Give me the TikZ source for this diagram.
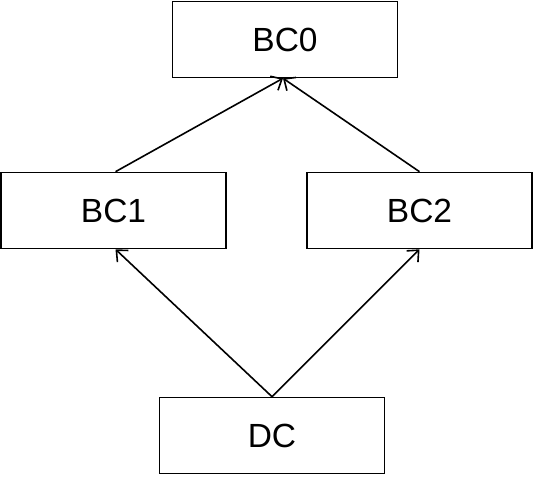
\documentclass[tikz,border=0pt]{standalone}
\usepackage{fontspec}
\setmainfont{Liberation Sans}
\usetikzlibrary{arrows.meta}
\begin{document}
\begin{tikzpicture}[x=1pt,y=-1pt,
  box/.style={draw, line width=1.6pt, minimum width=225pt, minimum height=76pt, inner sep=0pt, font=\fontsize{33.5}{38}\selectfont},
  conn/.style={line width=1.6pt, -{Straight Barb[length=9pt,width=16pt,line width=1.6pt]}}]
\useasboundingbox (0,0) rectangle (535,478);
\node[box] (bc0) at (285,39.5) {BC0};
\node[box] (bc1) at (113.5,210.5) {BC1};
\node[box] (bc2) at (419.5,210.5) {BC2};
\node[box] (dc) at (272,435.5) {DC};
\draw[conn] (bc1.north) ++(2,0) coordinate (a1) (a1) -- ([xshift=-2pt]bc0.south);
\draw[conn] (bc2.north) -- ([xshift=-2pt]bc0.south);
\draw[conn] (dc.north) -- ([xshift=2pt]bc1.south);
\draw[conn] (dc.north) -- (bc2.south);
\end{tikzpicture}
\end{document}
